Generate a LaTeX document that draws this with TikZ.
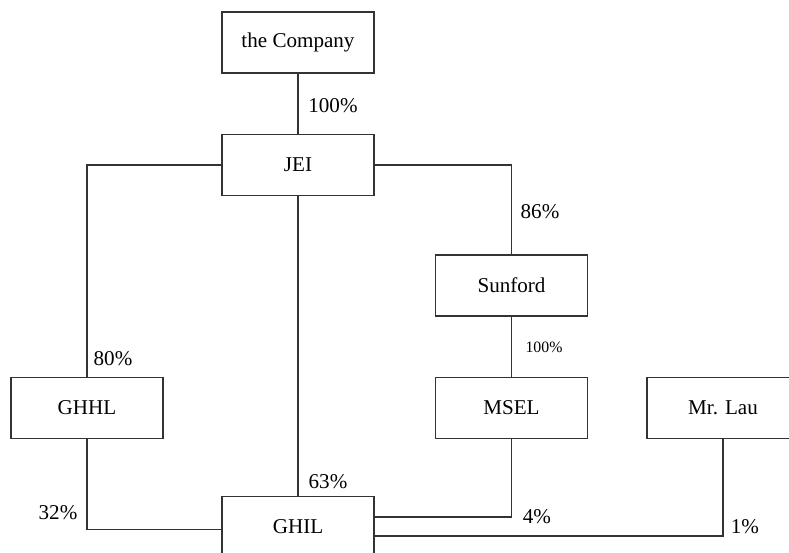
\documentclass[tikz,border=0pt]{standalone}
\usepackage{fontspec}
\setmainfont{Liberation Serif}
\usetikzlibrary{positioning}
\usetikzlibrary{calc}

\begin{document}
\begin{tikzpicture}
\tikzstyle{firm} =[rectangle,draw=black!80,line width=0.6pt,minimum width=3.04cm,minimum height=1.22cm,font=\fontsize{12}{14}\selectfont]
\tikzstyle{link} =[draw=black!80,line width=0.6pt]
\tikzstyle{share} =[inner sep=0pt,font=\fontsize{12}{14}\selectfont]
\useasboundingbox (0,0) rectangle (15.78,-11.06);
\clip (0,0) rectangle (15.78,-11.06);
\node[firm](company) at (5.96,-0.85) {the Company};
\node[firm](jei) at (5.96,-3.3) {JEI};
\node[firm](sunford) at (10.23,-5.71) {Sunford};
\node[firm](ghhl) at (1.74,-8.16) {GHHL};
\node[firm](msel) at (10.23,-8.16) {MSEL};
\node[firm](lau) at (14.46,-8.16) {Mr. Lau};
\node[firm](ghil) at (5.96,-10.54) {GHIL};

\draw[link] (company.south)--(jei.north);
\node[share](s1) at (6.66,-2.12) {100\%};

\draw[link] (jei.west) -| (ghhl.north);
\node[share](s2) at (2.26,-7.18) {80\%};

\draw[link] (jei.east) -| (sunford.north);
\node[share](s3) at (10.8,-4.24) {86\%};

\draw[link] (sunford.south)--(msel.north);
\node[share,font=\fontsize{9}{11}\selectfont](s4) at (10.88,-6.94) {100\%};

\draw[link] (jei.south)--(ghil.north);
\node[share](s5) at (6.56,-9.64) {63\%};

\draw[link] (ghhl.south) |- ([yshift=-0.05cm]ghil.west);
\node[share](s6) at (1.16,-10.26) {32\%};

\draw[link] (msel.south) |- ([yshift=0.2cm]ghil.east);
\node[share](s7) at (10.74,-10.34) {4\%};

\draw[link] (lau.south) |- ([yshift=-0.18cm]ghil.east);
\node[share](s8) at (14.9,-10.54) {1\%};
\end{tikzpicture}
\end{document}
